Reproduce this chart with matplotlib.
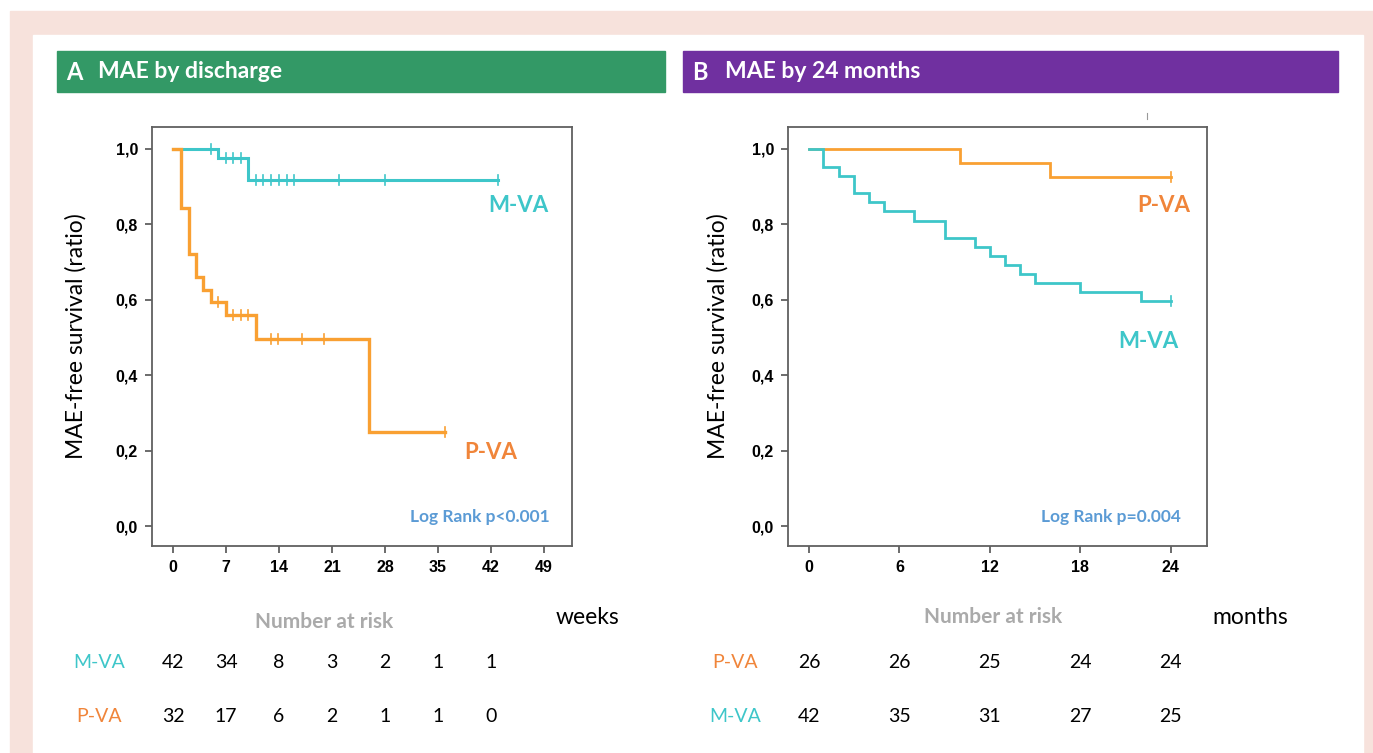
import matplotlib.pyplot as plt
import matplotlib.transforms as mtransforms
from matplotlib.patches import Rectangle

### Data

# A : MAE by discharge (weeks)
A_mva_t = [0, 6, 9.9, 42.9]
A_mva_s = [1.0, 0.976, 0.917, 0.917]
A_mva_cens = [5, 7, 7.9, 9, 11, 11.9, 12.9, 14, 15, 16, 21.9, 28, 42.9]

A_pva_t = [0, 1.1, 2.1, 3, 4, 5, 7, 11, 25.9, 35.9]
A_pva_s = [1.0, 0.842, 0.72, 0.66, 0.625, 0.593, 0.559, 0.495, 0.249, 0.249]
A_pva_cens = [6, 7.9, 9, 9.9, 12.9, 13.9, 17, 20, 35.9]

A_xticks = [0, 7, 14, 21, 28, 35, 42, 49]
A_risk_mva = [42, 34, 8, 3, 2, 1, 1]
A_risk_pva = [32, 17, 6, 2, 1, 1, 0]

# B : MAE by 24 months (months)
B_pva_t = [0, 10, 16, 24]
B_pva_s = [1.0, 0.962, 0.925, 0.925]
B_pva_cens = [24]

B_mva_t = [0, 0.9, 2, 3, 4, 5, 7, 9, 11, 12, 13, 14, 15, 18, 22, 24]
B_mva_s = [1.0, 0.952, 0.927, 0.882, 0.858, 0.834, 0.81, 0.763, 0.739,
           0.715, 0.691, 0.668, 0.644, 0.62, 0.596, 0.596]
B_mva_cens = [24]

B_xticks = [0, 6, 12, 18, 24]
B_risk_pva = [26, 26, 25, 24, 24]
B_risk_mva = [42, 35, 31, 27, 25]

yticks = [0.0, 0.2, 0.4, 0.6, 0.8, 1.0]
ylabels = ['0,0', '0,2', '0,4', '0,6', '0,8', '1,0']

TEAL = '#3ec6c9'
ORANGE = '#f9a032'
ORANGE_TXT = '#f0853a'
BLUE = '#5b9bd5'
GREY = '#606060'
CAL = ['Lato', 'DejaVu Sans']
ARIAL = ['Liberation Sans', 'DejaVu Sans']

W, H = 1373, 753
fig = plt.figure(figsize=(W / 100, H / 100), dpi=100)


def px(x, y):
    return x / W, 1 - y / H


def rect_px(x0, y0, x1, y1, color):
    fig.patches.append(Rectangle(px(x0, y1), (x1 - x0) / W, (y1 - y0) / H,
                                 transform=fig.transFigure, color=color, zorder=-5))


# background frame
rect_px(10, 11, 1373, 753, '#f7e2dc')
rect_px(33, 35, 1363, 753, 'white')

# headers
rect_px(57, 51, 665, 92, '#339966')
rect_px(683, 51, 1338, 92, '#7030a0')
fig.text(*px(66, 72), 'A', color='white', fontsize=17, fontweight='bold',
         family=CAL, va='center')
fig.text(*px(98, 72), 'MAE by discharge', color='white', fontsize=16.5,
         fontweight='bold', family=CAL, va='center')
fig.text(*px(692, 72), 'B', color='white', fontsize=17, fontweight='bold',
         family=CAL, va='center')
fig.text(*px(725, 72), 'MAE by 24 months', color='white', fontsize=16.5,
         fontweight='bold', family=CAL, va='center')


def km_axes(x0, x1, xlim, xticks, ylab_x):
    ax = fig.add_axes([x0 / W, 1 - 546 / H, (x1 - x0) / W, 419 / H])
    ax.set_xlim(*xlim)
    ax.set_ylim(-0.053, 1.058)
    for s in ax.spines.values():
        s.set_color(GREY)
        s.set_linewidth(1.3)
    ax.tick_params(direction='out', length=5, width=1.3, color=GREY, pad=5)
    ax.set_xticks(xticks)
    ax.set_yticks(yticks)
    ax.set_yticklabels(ylabels)
    for lab in ax.get_xticklabels() + ax.get_yticklabels():
        lab.set_family(ARIAL)
        lab.set_fontweight('bold')
        lab.set_fontsize(11.5)
    ax.set_ylabel('MAE-free survival (ratio)', family=CAL, fontsize=16.5)
    ax.yaxis.label.set_va('center')
    ax.yaxis.set_label_coords((ylab_x - x0) / (x1 - x0), 0.5)
    return ax


def curve(ax, t, s, cens, color, lw, tick_h):
    ax.step(t, s, where='post', color=color, lw=lw, solid_joinstyle='miter')
    for c in cens:
        # survival at censor time
        v = s[0]
        for ti, si in zip(t, s):
            if ti <= c:
                v = si
        ax.plot([c, c], [v - tick_h, v + tick_h], color=color, lw=1.2)


# Panel A
axA = km_axes(152, 572, (-2.77, 52.7), A_xticks, 76)
curve(axA, A_mva_t, A_mva_s, A_mva_cens, TEAL, 2.2, 0.013)
curve(axA, A_pva_t, A_pva_s, A_pva_cens, ORANGE, 2.4, 0.013)
axA.text(45.6, 0.849, 'M-VA', color=TEAL, fontsize=16, fontweight='bold',
         family=CAL, ha='center', va='center')
axA.text(42.0, 0.194, 'P-VA', color=ORANGE_TXT, fontsize=16, fontweight='bold',
         family=CAL, ha='center', va='center')
axA.text(49.7, 0.024, 'Log Rank p<0.001', color=BLUE, fontsize=12.5,
         fontweight='bold', family=CAL, ha='right', va='center')

# Panel B
axB = km_axes(788, 1207, (-1.39, 26.4), B_xticks, 718)
curve(axB, B_pva_t, B_pva_s, B_pva_cens, ORANGE, 2.0, 0.013)
curve(axB, B_mva_t, B_mva_s, B_mva_cens, TEAL, 2.0, 0.013)
axB.text(23.5, 0.851, 'P-VA', color=ORANGE_TXT, fontsize=16, fontweight='bold',
         family=CAL, ha='center', va='center')
axB.text(22.5, 0.49, 'M-VA', color=TEAL, fontsize=16, fontweight='bold',
         family=CAL, ha='center', va='center')
axB.text(24.7, 0.024, 'Log Rank p=0.004', color=BLUE, fontsize=12.5,
         fontweight='bold', family=CAL, ha='right', va='center')

# tiny stray mark above panel B
fig.add_artist(plt.Line2D([1147 / W, 1147 / W], [1 - 113 / H, 1 - 119 / H],
                          color='#999999', lw=0.8))

# Number at risk tables
fig.text(*px(324, 622), 'Number at risk', color='#aaaaaa', fontsize=15,
         fontweight='bold', family=CAL, ha='center', va='center')
fig.text(*px(587, 617), 'weeks', color='black', fontsize=16.5, family=CAL,
         ha='center', va='center')
fig.text(*px(993, 617), 'Number at risk', color='#aaaaaa', fontsize=15,
         fontweight='bold', family=CAL, ha='center', va='center')
fig.text(*px(1250, 617), 'months', color='black', fontsize=16.5, family=CAL,
         ha='center', va='center')


def risk_row(ax, xs, vals, label, color, ylab_px, y_px):
    fig.text(*px(ylab_px, y_px), label, color=color, fontsize=14, family=CAL,
             ha='center', va='center')
    tr = mtransforms.blended_transform_factory(ax.transData, fig.transFigure)
    yf = 1 - y_px / H
    for x, v in zip(xs, vals):
        ax.text(x, yf, str(v), transform=tr, fontsize=14, family=CAL,
                ha='center', va='center', color='black', clip_on=False)


risk_row(axA, A_xticks[:7], A_risk_mva, 'M-VA', TEAL, 99, 662)
risk_row(axA, A_xticks[:7], A_risk_pva, 'P-VA', ORANGE_TXT, 99, 716)
risk_row(axB, B_xticks, B_risk_pva, 'P-VA', ORANGE_TXT, 735, 663)
risk_row(axB, B_xticks, B_risk_mva, 'M-VA', TEAL, 735, 716)

fig.savefig('out.png', dpi=100)
